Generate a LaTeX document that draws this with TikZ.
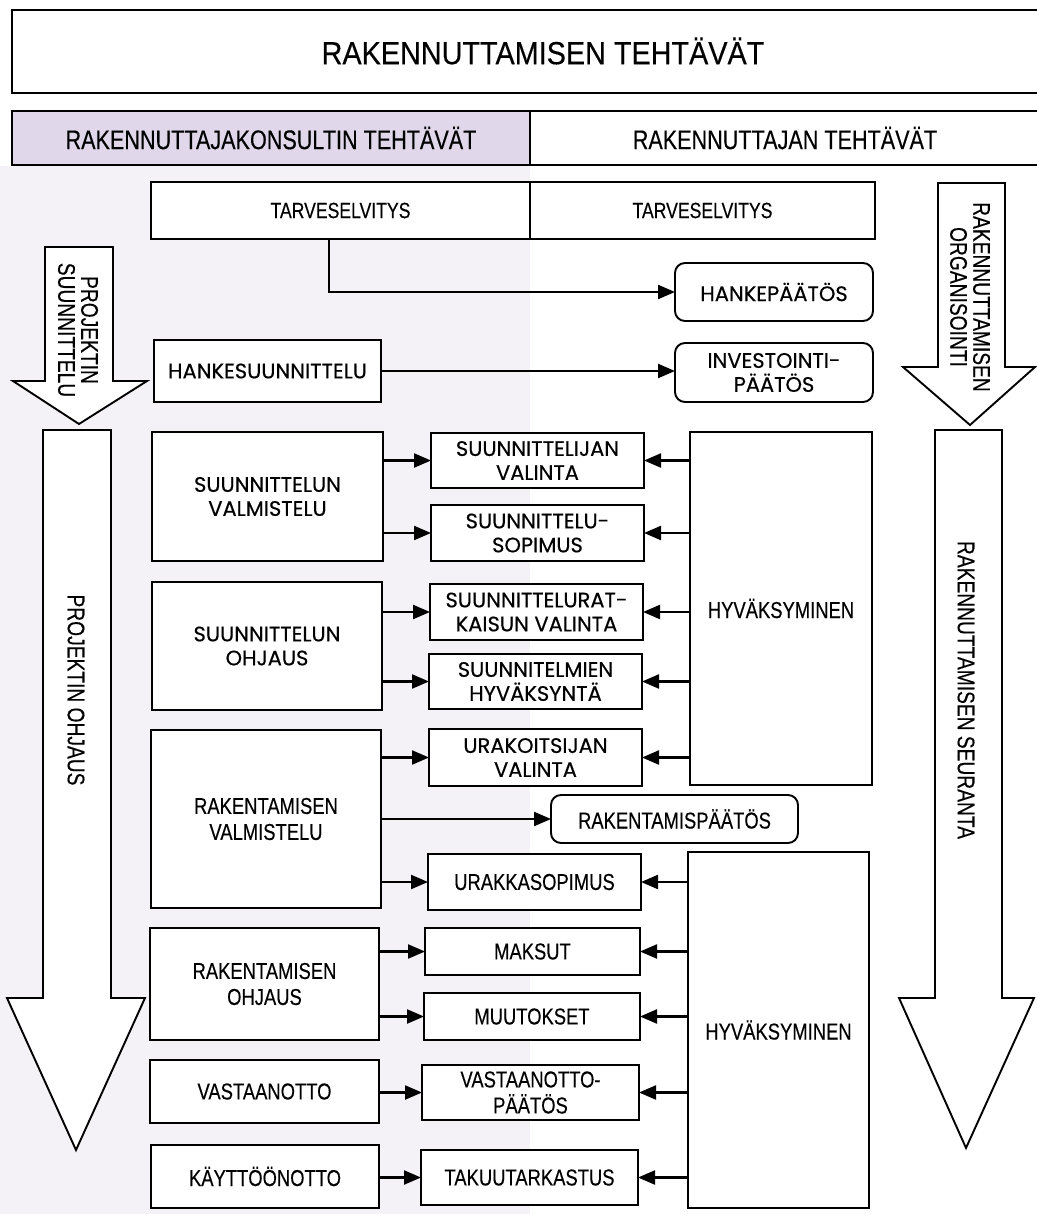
\documentclass[tikz,border=0pt]{standalone}
\usepackage{fontspec}
\setmainfont{Liberation Sans}
\newfontfamily\cnd[FakeStretch=0.8,FakeBold=0.3]{Liberation Sans}
\newfontfamily\ttlf[FakeStretch=0.9,FakeBold=0.3]{Liberation Sans}
\newfontfamily\geo[FakeBold=0.4]{Poppins}
\usetikzlibrary{arrows.meta}
\definecolor{lav}{HTML}{E0D8EA}
\definecolor{tint}{HTML}{F5F2F7}
% #1 options, #2 name, #3 x1, #4 y1, #5 x2, #6 y2, #7 text
\newcommand\bx[7][]{\node[box,#1,minimum width={(#5-#3)*1pt},minimum height={(#6-#4)*1pt}] (#2) at ({(#3+#5)/2},{(#4+#6)/2}) {#7};}
\begin{document}
\begin{tikzpicture}[x=1pt,y=-1pt,
 box/.style={draw,fill=white,line width=1.9pt,inner sep=0pt,outer sep=0pt,align=center,font=\cnd\fontsize{23}{26}\selectfont},
 gbox/.style={box,font=\geo\fontsize{21}{24}\selectfont},
 rbox/.style={rounded corners=10pt},
 arr/.style={line width=2.2pt,-{Triangle[length=17pt,width=14pt]}},
 blk/.style={draw,fill=white,line width=1.9pt,line join=miter},
 lbl/.style={font=\cnd\fontsize{24}{23}\selectfont,align=center,inner sep=0pt}]
\useasboundingbox (0,0) rectangle (1036,1214);
\fill[white] (0,0) rectangle (1036,1214);
\fill[tint] (0,166) rectangle (530,1214);

% title
\draw[line width=1.9pt] (1045,10) -- (12,10) -- (12,93) -- (1045,93);
\node[font=\ttlf\fontsize{32}{36}\selectfont,inner sep=0pt] (title) at (543,51) {RAKENNUTTAMISEN TEHTÄVÄT};

% header
\bx[fill=lav,font=\cnd\fontsize{27}{30}\selectfont]{hk}{12}{111}{530}{165}{RAKENNUTTAJAKONSULTIN TEHTÄVÄT}
\bx[font=\cnd\fontsize{27}{30}\selectfont]{hr}{530}{111}{1040}{165}{RAKENNUTTAJAN TEHTÄVÄT}

% tarveselvitys
\bx[font=\cnd\fontsize{22}{25}\selectfont]{TL}{151}{182}{530}{239}{TARVESELVITYS}
\bx[font=\cnd\fontsize{22}{25}\selectfont]{TR}{530}{182}{875}{239}{TARVESELVITYS}

% block arrows
\draw[blk] (45,247) -- (113,247) -- (113,381) -- (147,381) -- (79,424) -- (13,381) -- (45,381) -- cycle;
\draw[blk] (43,430) -- (111,430) -- (111,998) -- (145,998) -- (76,1150) -- (7,998) -- (43,998) -- cycle;
\draw[blk] (938,183) -- (1005,183) -- (1005,367) -- (1035,367) -- (970,425) -- (903,367) -- (938,367) -- cycle;
\draw[blk] (935,430) -- (1002,430) -- (1002,998) -- (1034,998) -- (966,1148) -- (899,998) -- (935,998) -- cycle;
\node[lbl,rotate=-90] (ps) at (78,330) {PROJEKTIN\\SUUNNITTELU};
\node[lbl,rotate=-90] (po) at (76,690) {PROJEKTIN OHJAUS};
\node[lbl,rotate=-90] (ro) at (970,297) {RAKENNUTTAMISEN\\ORGANISOINTI};
\node[lbl,rotate=-90] (rs) at (966,690) {RAKENNUTTAMISEN SEURANTA};

% decisions
\bx[gbox,rbox]{HP}{675}{263}{873}{321}{HANKEPÄÄTÖS}
\bx[gbox,rbox]{IP}{675}{343}{873}{402}{INVESTOINTI-\\PÄÄTÖS}
\bx[gbox]{HS}{154}{340}{381}{402}{HANKESUUNNITTELU}

% left column
\bx[gbox]{SVAL}{152}{432}{383}{561}{SUUNNITTELUN\\VALMISTELU}
\bx[gbox]{SOHJ}{152}{582}{382}{710}{SUUNNITTELUN\\OHJAUS}
\bx{RVAL}{151}{730}{381}{908}{RAKENTAMISEN\\VALMISTELU}
\bx{ROHJ}{150}{928}{379}{1040}{RAKENTAMISEN\\OHJAUS}
\bx{VAST}{150}{1060}{379}{1123}{VASTAANOTTO}
\bx{KAYT}{151}{1145}{379}{1208}{KÄYTTÖÖNOTTO}

% middle column
\bx[gbox]{SV}{431}{433}{644}{488}{SUUNNITTELIJAN\\VALINTA}
\bx[gbox]{SS}{431}{505}{644}{561}{SUUNNITTELU-\\SOPIMUS}
\bx[gbox]{SRK}{430}{584}{643}{640}{SUUNNITTELURAT-\\KAISUN VALINTA}
\bx[gbox]{SH}{429}{654}{642}{709}{SUUNNITELMIEN\\HYVÄKSYNTÄ}
\bx[gbox]{UV}{429}{729}{642}{786}{URAKOITSIJAN\\VALINTA}
\bx[rbox]{RP}{551}{795}{798}{843}{RAKENTAMISPÄÄTÖS}
\bx{US}{428}{854}{641}{910}{URAKKASOPIMUS}
\bx{MAK}{425}{928}{640}{975}{MAKSUT}
\bx{MUU}{424}{993}{640}{1040}{MUUTOKSET}
\bx{VP}{422}{1065}{639}{1120}{VASTAANOTTO-\\PÄÄTÖS}
\bx{TAK}{421}{1150}{638}{1205}{TAKUUTARKASTUS}

% approval boxes
\bx{HYV1}{690}{432}{872}{785}{HYVÄKSYMINEN}
\bx{HYV2}{688}{852}{869}{1208}{HYVÄKSYMINEN}

% connectors
\draw[arr] ([xshift=-11.5pt]TL.south) |- (HP.west);
\draw[arr] (HS.east) -- (IP.west |- HS.east);
\foreach \a/\b in {SVAL/SV,SVAL/SS,SOHJ/SRK,SOHJ/SH,RVAL/UV,RVAL/RP,RVAL/US,ROHJ/MAK,ROHJ/MUU,VAST/VP,KAYT/TAK}
  \draw[arr] (\a.east |- \b.west) -- (\b.west);
\foreach \a/\b in {HYV1/SV,HYV1/SS,HYV1/SRK,HYV1/SH,HYV1/UV,HYV2/US,HYV2/MAK,HYV2/MUU,HYV2/VP,HYV2/TAK}
  \draw[arr] (\a.west |- \b.east) -- (\b.east);
\end{tikzpicture}
\end{document}
